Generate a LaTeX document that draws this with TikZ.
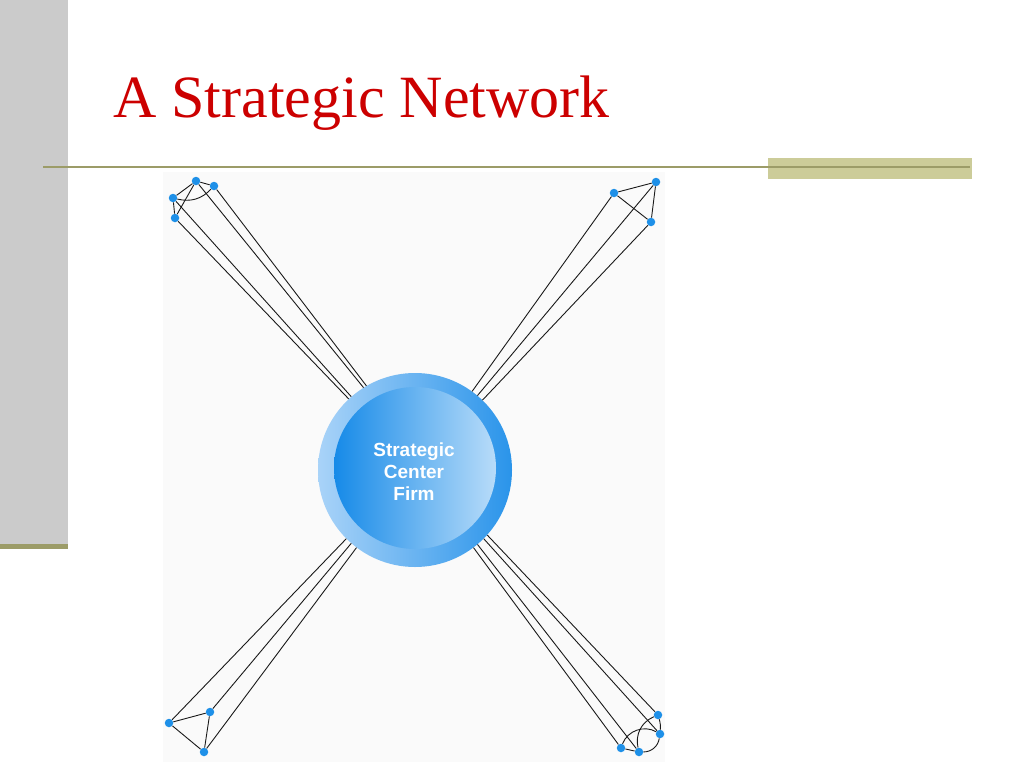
\documentclass[tikz,border=0pt]{standalone}
\usepackage{fontspec}
\setmainfont{Liberation Serif}
\newfontfamily\hubfont{Liberation Sans}

\definecolor{titlered}{HTML}{CC0000}
\definecolor{sidegray}{HTML}{CBCBCB}
\definecolor{barolive}{HTML}{9C9C68}
\definecolor{palebar}{HTML}{CCCC99}
\definecolor{dotblue}{HTML}{1E90E8}
\definecolor{ringlight}{HTML}{A9D3F8}
\definecolor{ringdark}{HTML}{2A94EA}
\definecolor{corelight}{HTML}{B8DCF9}
\definecolor{coredark}{HTML}{168AE8}

\tikzset{dot/.style={circle, fill=dotblue, inner sep=0pt, minimum size=8.5pt}}
\tikzset{link/.style={draw=black!90, line width=0.9pt}}

\begin{document}
\begin{tikzpicture}[x=1pt, y=-1pt, ring/.style={circle, inner sep=0pt}]
    \useasboundingbox (0,0) rectangle (1024,768);
    \fill[white] (0,0) rectangle (1024,768);

    % slide frame
    \fill[sidegray] (0,0) rectangle (68,545);
    \fill[barolive] (0,544) rectangle (68,549);
    \fill[palebar] (768,158) rectangle (972,179);
    \draw[barolive, line width=2pt] (43,167) -- (970,167);
    \node[anchor=base west, inner sep=0pt, text=titlered, font=\fontsize{60}{72}\selectfont] (title) at (113,117) {A Strategic Network};

    % panel
    \fill[black!2] (163,172) rectangle (665,762);

    % hub
    \node[ring, minimum size=194pt, left color=ringlight, right color=ringdark] (firm) at (415,470) {};
    \node[ring, minimum size=162pt, left color=coredark, right color=corelight] (core) at (415,468) {};
    \node[text=white, align=center, font=\hubfont\bfseries\fontsize{19}{22}\selectfont] (label) at (414,472) {Strategic\\Center\\Firm};

    \node[dot] (1) at (196,181) {};
    \node[dot] (2) at (214,186) {};
    \node[dot] (3) at (173,198) {};
    \node[dot] (4) at (175,218) {};
    \node[dot] (5) at (614,193) {};
    \node[dot] (6) at (656,182) {};
    \node[dot] (7) at (651,222) {};
    \node[dot] (8) at (169,723) {};
    \node[dot] (9) at (210,712) {};
    \node[dot] (10) at (204,752) {};
    \node[dot] (11) at (621,748) {};
    \node[dot] (12) at (639,752) {};
    \node[dot] (13) at (660,734) {};
    \node[dot] (14) at (658,715) {};

    \draw[link] (1) -- (firm.122);
    \draw[link] (2) -- (firm.120);
    \draw[link] (3) -- (firm.131);
    \draw[link] (4) -- (firm.133);
    \draw[link] (5) -- (firm.54);
    \draw[link] (6) -- (firm.50);
    \draw[link] (7) -- (firm.46);
    \draw[link] (8) -- (firm.225);
    \draw[link] (9) -- (firm.229);
    \draw[link] (10) -- (firm.233);
    \draw[link] (11) -- (firm.307);
    \draw[link] (12) -- (firm.310);
    \draw[link] (13) -- (firm.315);
    \draw[link] (14) -- (firm.318);

    \draw[link] (1) -- (2);
    \draw[link] (1) -- (3);
    \draw[link] (1) -- (4);
    \draw[link] (3) -- (4);
    \draw[link] (3) to[bend right=30] (2);
    \draw[link] (5) -- (6);
    \draw[link] (5) -- (7);
    \draw[link] (6) -- (7);
    \draw[link] (8) -- (9);
    \draw[link] (8) -- (10);
    \draw[link] (9) -- (10);
    \draw[link] (11) -- (12);
    \draw[link] (12) to[bend right=40] (13);
    \draw[link] (13) to[bend right=10] (14);
    \draw[link] (11) to[bend left=50] (13);
    \draw[link] (12) to[bend left=40] (14);
\end{tikzpicture}
\end{document}
